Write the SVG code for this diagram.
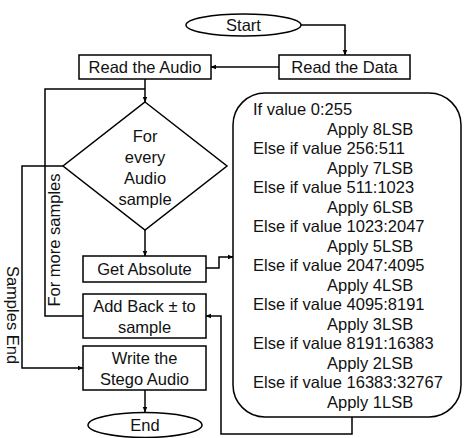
<svg xmlns="http://www.w3.org/2000/svg" width="467" height="438" viewBox="0 0 467 438">
<style>
.s{fill:#fff;stroke:#000;stroke-width:1.5}
.t{font-family:"Liberation Sans",Arial,sans-serif;font-size:16.5px;fill:#111}
.c{text-anchor:middle}
.l{fill:none;stroke:#000;stroke-width:1.5}
</style>
<defs>
<marker id="a" viewBox="0 0 10 10" refX="9" refY="5" markerWidth="6" markerHeight="6" markerUnits="userSpaceOnUse" orient="auto">
<path d="M0,1 L10,5 L0,9 Z" fill="#000"/>
</marker>
</defs>
<rect width="467" height="438" fill="#fff"/>
<g id="connectors">
<path class="l" d="M301,25 H345 V55" marker-end="url(#a)"/>
<path class="l" d="M279,67 H211" marker-end="url(#a)"/>
<path class="l" d="M145,79 V102" marker-end="url(#a)"/>
<path class="l" d="M83,316 H45 V89 H145"/>
<path class="l" d="M63,166 H22 V368 H83" marker-end="url(#a)"/>
<path class="l" d="M145,230 V256" marker-end="url(#a)"/>
<path class="l" d="M206,268 H219 V257 H233" marker-end="url(#a)"/>
<path class="l" d="M352,417 V434 H221 V316 H206" marker-end="url(#a)"/>
<path class="l" d="M145,390 V412" marker-end="url(#a)"/>
<text class="t c" transform="translate(60,240) rotate(-90)">For more samples</text>
<text class="t c" transform="translate(6.5,315) rotate(90)">Samples End</text>
</g>
<g id="start">
<ellipse class="s" cx="243.5" cy="25" rx="57.5" ry="11"/>
<text class="t c" x="243.5" y="31">Start</text>
</g>
<g id="readData">
<rect class="s" x="279" y="55" width="131" height="24"/>
<text class="t c" x="344.5" y="73">Read the Data</text>
</g>
<g id="readAudio">
<rect class="s" x="79" y="55" width="132" height="24"/>
<text class="t c" x="145" y="73">Read the Audio</text>
</g>
<g id="decision">
<polygon class="s" points="145,102 227,166 145,230 63,166"/>
<text class="t c" x="145" y="142">For</text>
<text class="t c" x="145" y="163">every</text>
<text class="t c" x="145" y="184">Audio</text>
<text class="t c" x="145" y="205">sample</text>
</g>
<g id="getAbsolute">
<rect class="s" x="83" y="256" width="123" height="26"/>
<text class="t c" x="144.5" y="275">Get Absolute</text>
</g>
<g id="addBack">
<rect class="s" x="83" y="294" width="123" height="44"/>
<text class="t c" x="144.5" y="312">Add Back ± to</text>
<text class="t c" x="144.5" y="333">sample</text>
</g>
<g id="writeStego">
<rect class="s" x="83" y="346" width="123" height="44"/>
<text class="t c" x="144.5" y="364">Write the</text>
<text class="t c" x="144.5" y="385">Stego Audio</text>
</g>
<g id="end">
<ellipse class="s" cx="145" cy="425" rx="57" ry="12.5"/>
<text class="t c" x="145" y="431">End</text>
</g>
<g id="rules">
<rect class="s" x="233" y="93" width="228" height="324" rx="32" ry="32"/>
<text class="t" x="253" y="115">If value 0:255</text>
<text class="t" x="327" y="134.5">Apply 8LSB</text>
<text class="t" x="253" y="154">Else if value 256:511</text>
<text class="t" x="327" y="173.6">Apply 7LSB</text>
<text class="t" x="253" y="193.1">Else if value 511:1023</text>
<text class="t" x="327" y="212.6">Apply 6LSB</text>
<text class="t" x="253" y="232.2">Else if value 1023:2047</text>
<text class="t" x="327" y="251.7">Apply 5LSB</text>
<text class="t" x="253" y="271.2">Else if value 2047:4095</text>
<text class="t" x="327" y="290.8">Apply 4LSB</text>
<text class="t" x="253" y="310.3">Else if value 4095:8191</text>
<text class="t" x="327" y="329.8">Apply 3LSB</text>
<text class="t" x="253" y="349.4">Else if value 8191:16383</text>
<text class="t" x="327" y="368.9">Apply 2LSB</text>
<text class="t" x="253" y="388.4">Else if value 16383:32767</text>
<text class="t" x="327" y="408">Apply 1LSB</text>
</g>
</svg>
